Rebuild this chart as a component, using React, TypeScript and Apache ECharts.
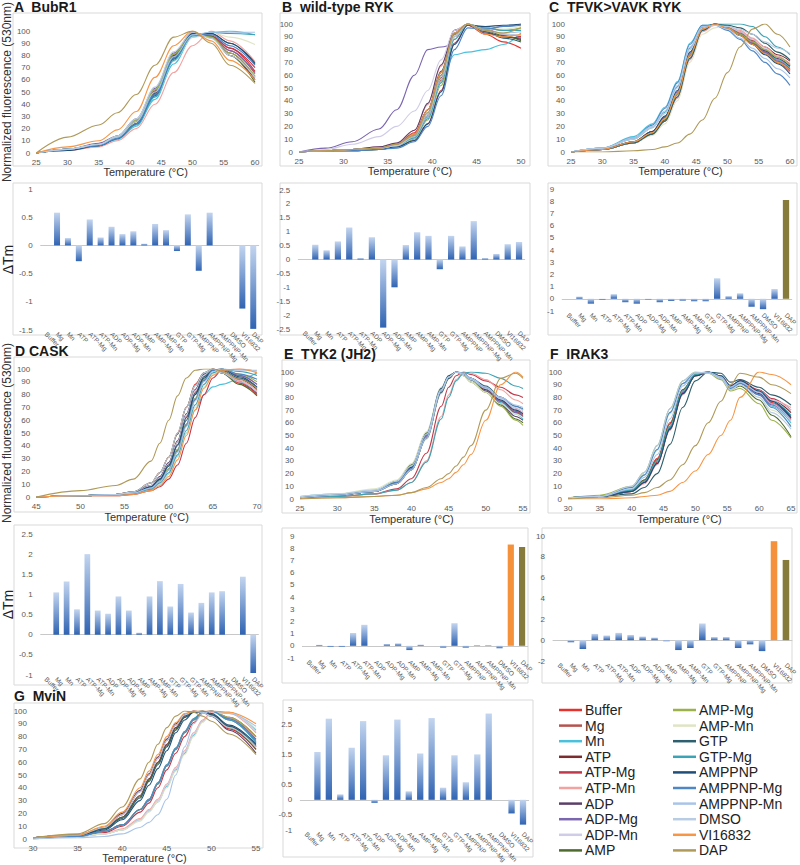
import React, { useEffect, useRef } from "react";
import * as echarts from "echarts";

const seriesNames = ["Buffer","Mg","Mn","ATP","ATP-Mg","ATP-Mn","ADP","ADP-Mg","ADP-Mn","AMP","AMP-Mg","AMP-Mn","GTP","GTP-Mg","AMPPNP","AMPPNP-Mg","AMPPNP-Mn","DMSO","VI16832","DAP"];
const seriesColors = ["#e8302c","#b5534f","#4bc0dd","#7a2c2f","#c0394a","#f2a3a0","#5b3f6b","#7b66b0","#d0cce8","#4e6b2e","#9bb24a","#dfe5c4","#2e5f6e","#3aa3b5","#1f4e79","#4f86c6","#a9c4e8","#b8cce4","#f79646","#b09a5a"];

const barCats = seriesNames;
const barCatsD = ["Buffer","Mg","Mn","ATP","ATP-Mg","ATP-Mn","ADP","ADP-Mg","ADP-Mn","AMP","AMP-Mg","AMP-Mn","GTP","GTP-Mg","GTP-Mn","AMPPNP","AMPPNP-Mg","AMPPNP-Mn","DMSO","VI16832","DAP"];

// ---- melting curves (normalized fluorescence) ----
const tempA = [25,30,35,38,41,44,47,50,53,56,60];
const curvesA = [
  [0,3,6,12,24,48,78,97,97,86,67],
  [0,3,7,13,26,50,80,98,96,84,65],
  [0,2,6,11,22,44,73,95,99,100,97],
  [0,3,7,13,25,49,79,98,95,82,62],
  [0,3,7,14,27,51,81,98,96,86,70],
  [0,2,5,10,20,40,66,88,100,92,75],
  [0,3,7,13,26,50,80,98,95,80,60],
  [0,3,8,14,28,53,82,99,95,84,66],
  [0,3,7,13,24,46,75,95,97,88,72],
  [0,3,7,13,26,50,79,98,96,80,58],
  [0,3,7,14,27,52,81,98,95,82,63],
  [0,3,7,13,25,47,76,96,99,95,89],
  [0,3,6,12,24,47,77,97,98,90,74],
  [0,3,6,12,23,46,76,96,99,98,97],
  [0,2,6,12,24,48,78,98,98,90,73],
  [0,3,6,12,24,48,78,97,97,88,72],
  [0,3,7,13,26,50,79,97,99,99,99],
  [0,3,7,14,28,54,83,99,94,80,62],
  [0,5,10,19,34,62,88,100,92,76,60],
  [0,13,23,33,48,72,95,100,90,72,57]
];

const tempB = [25,28,31,34,36,38,39.5,41,42.5,44,46,48,50];
const curvesB = [
  [0,1,2,3,6,15,33,62,92,99,92,86,81],
  [0,1,2,3,5,12,28,56,90,100,95,92,90],
  [0,1,1,2,4,11,27,55,76,78,80,84,93],
  [0,1,2,3,5,12,28,58,92,100,94,90,88],
  [0,1,1,2,4,9,22,48,85,99,96,92,90],
  [0,1,2,4,7,17,37,67,95,99,94,92,91],
  [0,1,2,4,7,17,38,68,95,99,93,90,89],
  [0,3,8,18,33,60,80,82,84,99,96,98,100],
  [0,2,6,12,20,32,48,72,95,100,96,95,95],
  [0,1,2,3,5,12,30,60,92,100,95,91,87],
  [0,1,1,2,4,10,25,52,88,99,97,95,97],
  [0,1,1,2,4,11,26,54,88,99,97,96,98],
  [0,1,2,3,6,14,33,63,93,100,94,89,86],
  [0,1,2,3,5,11,26,54,88,100,97,95,95],
  [0,1,1,2,4,9,22,47,84,99,98,99,100],
  [0,1,1,2,3,8,20,44,80,97,96,98,99],
  [0,1,2,3,5,12,28,57,90,100,95,93,94],
  [0,1,2,3,5,13,30,59,91,100,95,92,91],
  [0,1,2,3,6,14,33,62,93,100,92,90,92],
  [0,1,2,3,6,13,31,60,92,100,95,93,97]
];

const tempC = [25,30,35,38,40,42,44,46,48,50,52,54,56,58,60];
const curvesC = [
  [0,2,8,16,27,46,76,96,100,97,92,85,78,72,67],
  [0,2,8,15,25,44,74,95,100,98,93,87,80,74,69],
  [0,3,12,22,35,55,85,99,99,97,92,86,79,72,66],
  [0,2,7,14,24,43,73,95,100,98,94,88,82,76,71],
  [0,2,8,16,27,46,76,96,100,97,92,85,77,70,63],
  [0,2,7,14,24,42,72,94,99,98,95,89,82,75,68],
  [0,2,7,14,25,45,75,96,100,97,92,86,79,73,67],
  [0,2,8,16,27,47,77,97,100,97,92,85,78,71,65],
  [0,2,8,15,25,44,74,95,99,98,94,88,81,74,68],
  [0,2,7,14,25,45,76,96,100,97,91,84,77,70,64],
  [0,2,8,15,26,45,75,96,100,97,92,86,80,74,68],
  [0,2,7,13,22,40,70,92,97,99,97,92,85,78,72],
  [0,2,7,14,24,43,73,95,100,99,97,92,85,78,72],
  [0,3,10,19,31,51,81,98,100,100,100,98,90,82,76],
  [0,2,8,16,28,48,78,97,100,97,91,84,76,69,61],
  [0,3,11,21,34,54,84,99,99,95,88,79,70,61,52],
  [0,3,11,20,32,52,82,98,99,96,89,81,73,65,58],
  [0,3,10,19,30,50,80,97,99,98,96,92,86,81,77],
  [0,2,8,15,26,46,76,96,100,97,91,84,77,70,64],
  [0,0,1,2,4,7,14,25,42,62,82,96,100,92,82]
];

const tempD = [45,50,54,56,58,59,60,61,62,63,64,65,66,68,70];
const curvesD = [
  [0,1,2,4,11,19,31,50,70,88,97,100,97,89,80],
  [0,1,2,3,7,12,21,36,56,76,91,99,100,95,88],
  [0,1,2,3,6,10,18,32,50,68,80,86,88,92,97],
  [0,1,2,3,9,15,26,43,63,82,95,100,98,92,84],
  [0,1,1,2,5,8,14,25,42,62,80,93,99,100,98],
  [0,1,2,3,9,15,26,43,63,82,95,100,98,91,83],
  [0,1,2,4,9,16,27,44,65,84,96,100,97,90,81],
  [0,1,2,3,7,13,22,37,57,77,92,99,100,95,88],
  [0,1,2,3,9,15,26,43,64,83,95,100,98,93,86],
  [0,1,2,4,11,19,31,49,70,87,97,100,97,88,79],
  [0,1,2,3,7,13,22,37,57,77,92,99,100,96,90],
  [0,1,2,3,6,10,18,31,50,70,86,96,99,100,98],
  [0,1,2,3,8,14,25,41,62,81,94,99,99,93,85],
  [0,1,2,3,6,11,19,33,52,72,88,97,100,98,95],
  [0,1,2,3,8,14,24,40,60,80,93,99,100,94,86],
  [0,1,2,3,7,12,21,36,56,76,91,99,100,96,92],
  [0,1,2,3,7,12,21,35,55,75,90,98,100,99,99],
  [0,1,2,4,11,19,31,50,70,87,97,100,97,90,82],
  [0,1,1,2,5,9,16,29,48,68,85,95,99,100,97],
  [0,5,9,14,28,42,60,79,93,99,100,100,98,92,85]
];

const tempE = [25,30,35,38,40,42,44,45,46,47,48,50,52,54,55];
const curvesE = [
  [1,3,6,12,23,48,84,95,100,99,95,88,80,71,68],
  [1,3,6,12,23,48,84,95,100,99,95,87,78,69,66],
  [2,4,7,14,26,51,86,97,100,98,94,86,76,67,63],
  [1,3,6,13,25,50,86,96,100,98,94,86,77,68,65],
  [1,2,4,8,16,36,73,88,97,100,98,93,88,82,80],
  [1,2,4,7,13,30,65,82,94,100,99,94,86,78,75],
  [1,3,6,13,25,50,86,96,100,98,94,85,75,65,62],
  [1,3,6,12,24,49,85,96,100,99,95,87,77,68,65],
  [1,3,6,12,23,47,83,95,100,99,95,88,79,71,68],
  [1,3,6,14,27,52,87,97,100,97,92,84,74,63,60],
  [1,3,6,12,23,48,84,95,100,99,94,84,73,62,58],
  [2,4,8,15,28,53,88,97,100,97,92,84,75,67,64],
  [1,3,6,12,23,48,84,95,100,99,95,89,80,73,70],
  [1,2,4,7,13,29,63,80,93,99,100,99,95,89,87],
  [1,3,6,13,25,51,87,97,100,98,94,87,78,70,67],
  [1,3,6,13,24,50,86,96,100,99,95,88,80,73,71],
  [1,3,6,12,23,48,85,96,100,99,95,88,80,74,72],
  [2,4,7,14,26,51,86,96,100,98,94,87,79,72,70],
  [0,1,2,3,5,8,13,16,21,27,35,62,90,100,96],
  [0,1,2,3,5,9,16,20,26,33,42,70,95,99,95]
];

const tempF = [30,35,40,42,44,46,48,50,52,54,55.5,57,60,62,65];
const curvesF = [
  [1,2,7,15,32,60,86,98,100,96,88,92,84,76,65],
  [1,2,7,14,30,58,85,98,100,96,88,92,84,75,63],
  [1,2,9,19,39,68,91,99,100,95,87,91,82,73,60],
  [1,2,6,13,28,55,83,97,100,97,89,93,85,78,68],
  [1,2,6,13,29,56,84,97,100,97,89,93,86,79,70],
  [1,2,6,12,27,54,82,97,100,97,89,92,84,78,72],
  [1,2,6,13,28,55,83,97,100,96,88,92,83,75,64],
  [1,2,7,14,30,57,84,98,100,96,88,91,82,74,62],
  [1,2,7,14,30,58,85,98,100,96,88,92,85,78,70],
  [1,2,7,15,31,59,86,98,100,95,86,89,78,66,49],
  [1,3,10,21,42,71,93,100,99,94,85,87,75,62,48],
  [1,2,9,19,38,67,91,99,100,95,86,90,80,70,58],
  [1,2,4,9,20,43,72,93,100,99,92,94,88,82,74],
  [1,2,7,14,30,57,85,98,100,96,88,92,85,77,66],
  [1,2,6,13,28,55,83,97,100,97,89,93,85,77,64],
  [1,2,9,19,39,68,91,99,100,95,87,91,82,72,57],
  [1,2,8,17,35,63,89,99,100,96,88,92,84,75,62],
  [1,2,10,21,42,71,93,100,99,95,86,90,80,68,55],
  [0,0,1,2,3,6,13,22,35,50,62,80,100,98,90],
  [0,1,3,5,9,15,27,42,60,77,90,99,96,90,83]
];

const tempG = [30,35,38,40,42,43,44,45,46,47,48,49,50,52,55];
const curvesG = [
  [1,3,9,19,37,50,63,77,89,97,100,99,96,86,70],
  [1,2,6,11,23,30,43,57,70,83,93,99,100,94,78],
  [0,2,4,7,15,22,29,41,54,67,81,92,98,99,85],
  [1,3,8,17,34,47,60,74,87,96,100,99,97,88,72],
  [1,2,5,10,21,28,40,54,67,80,91,98,100,95,80],
  [0,2,4,8,16,23,31,43,56,69,83,93,99,98,83],
  [1,3,9,20,38,51,64,78,90,97,100,99,96,85,67],
  [1,2,6,11,23,31,44,58,71,84,94,99,100,93,76],
  [0,2,4,7,15,22,30,42,55,68,82,92,98,99,84],
  [1,3,8,17,33,46,59,73,86,95,99,100,97,87,70],
  [1,2,6,11,23,30,43,57,70,83,93,99,100,95,80],
  [0,2,4,7,14,21,29,40,53,66,80,91,98,99,86],
  [1,3,8,16,32,45,58,72,85,95,99,100,97,88,73],
  [1,2,6,11,23,31,44,58,71,84,94,99,100,93,75],
  [1,3,7,15,30,42,55,69,83,93,99,100,98,89,74],
  [1,2,6,11,23,30,43,57,70,83,93,99,100,94,77],
  [0,1,2,4,9,13,19,31,50,72,90,98,100,98,88],
  [1,3,9,19,37,50,63,77,89,97,100,99,96,87,72],
  [1,3,10,21,40,53,66,80,91,98,100,100,100,99,90],
  [1,4,12,25,47,60,74,87,96,100,99,96,92,82,66]
];

// ---- ΔTm bar values ----
const dTmA = [0,0.58,0.13,-0.28,0.46,0.14,0.33,0.2,0.25,0.03,0.38,0.27,-0.1,0.55,-0.45,0.58,0,0,-1.12,-1.48];
const dTmB = [0,0.53,0.33,0.65,1.15,0.05,0.8,-2.45,-1.0,0.52,0.98,0.85,-0.35,0.85,0.47,1.38,0.05,0.2,0.55,0.63];
const dTmC = [0,0.18,-0.4,-0.1,0.38,-0.28,-0.4,-0.05,-0.28,-0.18,-0.15,-0.2,-0.2,1.68,0.22,0.45,-0.65,-0.85,0.8,8.1];
const dTmD = [0,1.05,1.32,0.63,2.0,0.6,0.52,0.95,0.6,0.05,0.95,1.33,0.7,1.26,0.55,0.79,1.05,1.08,0,1.44,-0.95];
const dTmE = [0,0.08,-0.1,-0.1,1.05,1.72,0,0.15,0.2,-0.35,0.1,0,-0.15,1.85,-0.15,0.05,0.05,-0.2,8.3,8.1];
const dTmF = [0,-0.2,-0.85,0.6,0.45,0.7,0.5,0.35,0.25,-0.1,-0.95,-0.75,1.6,0.3,0.3,-0.75,-0.4,-1.05,9.5,7.7];
const dTmG = [0,1.58,2.68,0.18,1.72,2.6,-0.1,1.47,2.65,0.28,1.53,2.7,0.4,1.47,0.58,1.5,2.85,0,-0.45,-0.82];

const FONT = "Liberation Sans, Arial, sans-serif";
const ORANGE = "#f4913a";
const OLIVE = "#877b3c";

const linePanels = [
  { title: "A  BubR1", tx: 14, ty: 7, temps: tempA, curves: curvesA, min: 25, max: 60, grid: { left: 36, top: 25, width: 219, height: 128 }, yTitle: true, gap: 12, box: [13, 13, 249, 153] },
  { title: "B  wild-type RYK", tx: 282, ty: 7, temps: tempB, curves: curvesB, min: 25, max: 50, grid: { left: 299, top: 24, width: 222, height: 128 }, yTitle: false, gap: 12, box: [280, 13, 250, 153] },
  { title: "C  TFVK>VAVK RYK", tx: 549, ty: 7, temps: tempC, curves: curvesC, min: 25, max: 60, grid: { left: 571, top: 24, width: 219, height: 128 }, yTitle: false, gap: 12, box: [548, 13, 249, 153] },
  { title: "D CASK", tx: 15, ty: 351, temps: tempD, curves: curvesD, min: 45, max: 70, grid: { left: 33, top: 369, width: 224, height: 128 }, yTitle: true, gap: 14, box: [14, 357, 248, 155] },
  { title: "E  TYK2 (JH2)", tx: 284, ty: 354, temps: tempE, curves: curvesE, min: 25, max: 55, grid: { left: 300, top: 372, width: 223, height: 127 }, yTitle: false, gap: 14, box: [282, 360, 248, 153] },
  { title: "F  IRAK3", tx: 550, ty: 354, temps: tempF, curves: curvesF, min: 30, max: 65, grid: { left: 568, top: 372, width: 223, height: 127 }, yTitle: false, gap: 14, box: [548, 360, 249, 153] },
  { title: "G  MviN", tx: 14, ty: 696, temps: tempG, curves: curvesG, min: 30, max: 55, grid: { left: 33, top: 711, width: 223, height: 128 }, yTitle: false, gap: 12, box: [14, 703, 249, 145] }
];

const barPanels = [
  { cats: barCats, vals: dTmA, min: -1.5, max: 1, step: 0.5, grid: { left: 32.3, top: 189, width: 226.4, height: 141 }, yTitle: true, special: {}, box: [13, 183, 249, 152] },
  { cats: barCats, vals: dTmB, min: -2.5, max: 2.5, step: 0.5, grid: { left: 298.3, top: 190, width: 226.4, height: 139 }, yTitle: false, special: {}, box: [280, 183, 250, 152] },
  { cats: barCats, vals: dTmC, min: -1, max: 9, step: 1, grid: { left: 562.2, top: 189, width: 231.6, height: 122 }, yTitle: false, special: { DAP: OLIVE }, box: [548, 183, 249, 152] },
  { cats: barCatsD, vals: dTmD, min: -1, max: 2.5, step: 0.5, grid: { left: 32.6, top: 534, width: 225.8, height: 141 }, yTitle: true, special: {}, box: [14, 525, 248, 160] },
  { cats: barCats, vals: dTmE, min: -1, max: 9, step: 1, grid: { left: 302.4, top: 536, width: 225.3, height: 122 }, yTitle: false, special: { VI16832: ORANGE, DAP: OLIVE }, box: [282, 528, 246, 155] },
  { cats: barCats, vals: dTmF, min: -2, max: 10, step: 2, grid: { left: 553, top: 536, width: 239, height: 125 }, yTitle: false, special: { VI16832: ORANGE, DAP: OLIVE }, box: [542, 528, 250, 155] },
  { cats: barCats, vals: dTmG, min: -1, max: 3, step: 0.5, grid: { left: 300.3, top: 709, width: 228.4, height: 137 }, yTitle: false, special: {}, box: [283, 700, 250, 157] }
];

const blueGrad = {
  type: "linear", x: 0, y: 0, x2: 0, y2: 1,
  colorStops: [{ offset: 0, color: "#c3d5ef" }, { offset: 1, color: "#2f63b2" }]
};

function buildOption() {
  const grids: any[] = [];
  const xAxes: any[] = [];
  const yAxes: any[] = [];
  const series: any[] = [];
  const graphics: any[] = [];
  const tickLabel = { fontSize: 8, color: "#595959", fontFamily: FONT };

  linePanels.forEach((p) => {
    const gi = grids.length;
    grids.push({ ...p.grid, containLabel: false });
    xAxes.push({
      type: "value", gridIndex: gi, min: p.min, max: p.max, interval: 5,
      axisLine: { show: false }, axisTick: { show: false }, splitLine: { show: false },
      axisLabel: { ...tickLabel, margin: 5 },
      name: "Temperature (°C)", nameLocation: "middle", nameGap: p.gap,
      nameTextStyle: { fontSize: 11, color: "#333", fontFamily: FONT }
    });
    yAxes.push({
      type: "value", gridIndex: gi, min: 0, max: 100, interval: 10,
      axisLine: { show: false }, axisTick: { show: false }, splitLine: { show: false },
      axisLabel: { ...tickLabel, margin: 6 },
      name: p.yTitle ? "Normalized fluorescence (530nm)" : "", nameLocation: "middle", nameGap: 22,
      nameTextStyle: { fontSize: 12, color: "#333", fontFamily: FONT }
    });
    p.curves.forEach((c, i) => {
      series.push({
        type: "line", name: seriesNames[i], xAxisIndex: gi, yAxisIndex: gi,
        data: p.temps.map((t, j) => [t, c[j]]),
        showSymbol: false, smooth: 0.35, smoothMonotone: "x",
        lineStyle: { width: 1.1, color: seriesColors[i] }, itemStyle: { color: seriesColors[i] }
      });
    });
    graphics.push({ type: "rect", shape: { x: p.box[0], y: p.box[1], width: p.box[2], height: p.box[3] }, style: { fill: "none", stroke: "#d9d9d9", lineWidth: 1 }, silent: true });
    graphics.push({ type: "text", x: p.tx, y: p.ty, style: { text: p.title, fontSize: 14, fontWeight: "bold", fill: "#1a1a1a", fontFamily: FONT, verticalAlign: "middle" } });
  });

  barPanels.forEach((p) => {
    const gi = grids.length;
    grids.push({ ...p.grid, containLabel: false });
    xAxes.push({
      type: "category", gridIndex: gi, data: p.cats,
      axisLine: { show: true, onZero: true, lineStyle: { color: "#c8c8c8", width: 1 } },
      axisTick: { show: false }, splitLine: { show: false },
      axisLabel: { fontSize: 6.5, color: "#595959", fontFamily: FONT, rotate: -45, interval: 0, margin: 3 }
    });
    yAxes.push({
      type: "value", gridIndex: gi, min: p.min, max: p.max, interval: p.step,
      axisLine: { show: false }, axisTick: { show: false }, splitLine: { show: false },
      axisLabel: { ...tickLabel, margin: 8 },
      name: p.yTitle ? "ΔTm" : "", nameLocation: "middle", nameGap: 14,
      nameTextStyle: { fontSize: 14, color: "#222", fontFamily: FONT }
    });
    series.push({
      type: "bar", xAxisIndex: gi, yAxisIndex: gi, barWidth: "55%",
      data: p.vals.map((v, i) => {
        const sp = (p.special as any)[p.cats[i]];
        return { value: v, itemStyle: { color: sp ? sp : blueGrad } };
      })
    });
    graphics.push({ type: "rect", shape: { x: p.box[0], y: p.box[1], width: p.box[2], height: p.box[3] }, style: { fill: "none", stroke: "#d9d9d9", lineWidth: 1 }, silent: true });
  });

  // legend (two columns)
  seriesNames.forEach((n, i) => {
    const col = i < 10 ? 0 : 1;
    const row = i % 10;
    const y = 710 + row * 15.6;
    const lx = col === 0 ? 559 : 673;
    graphics.push({ type: "line", shape: { x1: lx, y1: y, x2: lx + 23, y2: y }, style: { stroke: seriesColors[i], lineWidth: 2.5 } });
    graphics.push({ type: "text", x: lx + 26, y: y, style: { text: n, fontSize: 14, fill: "#222", fontFamily: FONT, verticalAlign: "middle" } });
  });

  return {
    animation: false,
    backgroundColor: "#ffffff",
    grid: grids, xAxis: xAxes, yAxis: yAxes, series,
    graphic: { elements: graphics }
  };
}

export default function App() {
  const ref = useRef<HTMLDivElement>(null);
  useEffect(() => {
    document.body.style.margin = "0";
    if (!ref.current) return;
    const chart = echarts.init(ref.current, null, { renderer: "svg" });
    chart.setOption(buildOption() as any);
    return () => chart.dispose();
  }, []);
  return <div ref={ref} style={{ width: 800, height: 865 }} />;
}
